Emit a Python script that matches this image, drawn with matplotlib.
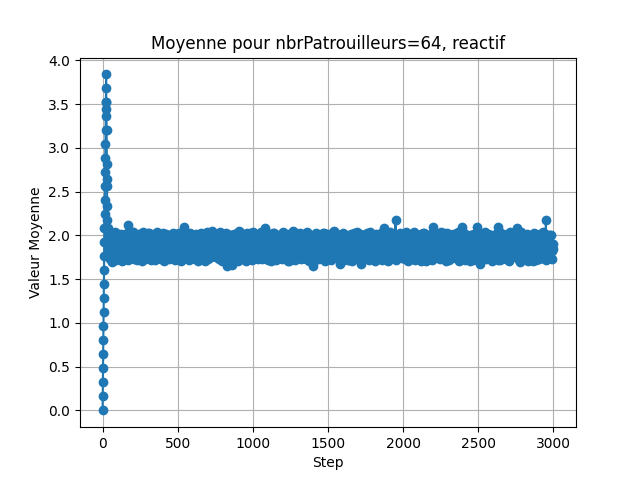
import matplotlib
matplotlib.use("Agg")
import matplotlib.pyplot as plt
import numpy as np

# ramp at the start (steps 0..24)
ramp_steps = np.arange(0, 25)
ramp_vals = [0.00, 0.16, 0.32, 0.48, 0.64, 0.80, 0.96, 1.12, 1.28, 1.44,
             1.60, 1.76, 1.92, 2.08, 2.24, 2.40, 2.56, 2.72, 2.88, 3.04,
             3.20, 3.36, 3.52, 3.68, 3.84]

# fall back after the peak (steps 25..39)
fall_steps = np.arange(25, 40)
fall_vals = [3.52, 3.45, 3.20, 2.82, 2.65, 2.56, 2.34, 2.18, 2.08, 2.00,
             1.95, 1.90, 1.86, 1.92, 1.88]

# steady regime, read every 10 steps (40..3000): spikes and dips
band_steps = np.arange(40, 3001, 10)
band_vals = [
    1.96, 1.84, 1.70, 1.99, 1.80, 2.03, 1.77, 1.93, 1.86, 2.01,
    1.78, 1.95, 1.82, 2.12, 1.88, 1.75, 2.04, 1.83, 1.97, 1.79,
    2.02, 1.86, 1.76, 1.98, 1.90, 1.81, 2.03, 1.77, 1.94, 1.85,
    1.99, 1.74, 1.91, 2.01, 1.83, 1.79, 1.96, 1.87, 2.02, 1.76,
    1.93, 1.84, 2.00, 1.78, 1.89, 1.97, 1.75, 2.03, 1.82, 1.92,
    2.10, 1.80, 1.94, 1.76, 2.01, 1.86, 1.79, 1.98, 1.84, 1.91,
    1.77, 2.02, 1.88, 1.81, 1.96, 1.74, 1.99, 1.85, 1.90, 2.05,
    1.79, 1.93, 2.01, 1.76, 1.87, 1.98, 1.82, 1.95, 1.78, 1.65,
    1.92, 2.00, 1.66, 1.89, 1.97, 1.80, 1.94, 2.05, 1.77, 1.86,
    2.01, 1.75, 1.91, 1.84, 2.03, 1.79, 1.96, 1.88, 1.74, 1.99,
    1.83, 1.93, 1.78, 2.02, 2.09, 1.81, 1.95, 1.76, 1.90, 2.00,
    1.85, 1.77, 1.98, 1.82, 2.01, 1.88, 1.75, 1.94, 1.80, 1.97,
    2.02, 1.79, 1.91, 2.05, 1.84, 1.76, 1.99, 1.87, 1.93, 1.78,
    1.96, 1.83, 2.00, 1.74, 1.89, 1.97, 1.65, 1.92, 1.81, 2.01,
    1.77, 1.94, 1.86, 2.03, 1.79, 1.90, 1.98, 1.75, 1.85, 2.00,
    2.05, 1.82, 1.95, 1.78, 1.67, 1.93, 2.01, 1.84, 1.76, 1.97,
    1.88, 2.02, 1.80, 1.91, 1.75, 1.99, 1.86, 1.94, 1.67, 2.00,
    1.83, 1.96, 1.77, 2.01, 1.89, 1.79, 1.95, 1.84, 1.98, 1.76,
    1.92, 2.00, 1.81, 2.08, 1.85, 1.77, 1.97, 1.90, 1.79, 2.02,
    1.86, 2.18, 1.80, 1.94, 1.75, 1.99, 1.87, 1.83, 2.03, 1.78,
    1.95, 1.84, 2.01, 1.76, 1.91, 1.98, 1.79, 1.88, 2.02, 1.74,
    1.93, 1.85, 1.99, 1.80, 1.96, 1.77, 2.10, 1.86, 1.82, 2.01,
    1.78, 1.94, 1.89, 2.03, 1.75, 1.97, 1.83, 1.91, 2.00, 1.79,
    1.96, 1.81, 2.02, 1.87, 1.76, 2.10, 1.84, 1.93, 1.78, 1.99,
    1.82, 2.01, 1.88, 1.77, 1.95, 2.10, 1.80, 1.67, 1.97, 1.85,
    2.02, 1.76, 1.92, 1.84, 2.00, 1.79, 1.96, 1.87, 1.81, 2.10,
    1.78, 1.93, 2.01, 1.83, 1.90, 1.75, 1.98, 1.86, 2.03, 1.80,
    1.94, 1.85, 2.08, 1.77, 1.70, 1.97, 1.82, 2.00, 1.88, 1.76,
    1.99, 1.84, 1.92, 1.79, 2.02, 1.87, 1.75, 1.96, 1.81, 2.01,
    1.86, 2.18, 1.80, 1.95, 2.00, 1.82, 1.90,
]

# steady regime, steps 45..2995: middle of the band
mid_steps = np.arange(45, 3000, 10)
mid_vals = [
    1.88, 1.83, 1.91, 1.86, 1.94, 1.81, 1.89, 1.92, 1.84, 1.87,
    1.90, 1.85, 1.93, 1.82, 1.88, 1.95, 1.86, 1.83, 1.91, 1.89,
    1.84, 1.92, 1.87, 1.90, 1.81, 1.93, 1.88, 1.85, 1.94, 1.86,
    1.91, 1.83, 1.89, 1.95, 1.84, 1.87, 1.92, 1.82, 1.90, 1.88,
    1.86, 1.93, 1.81, 1.89, 1.91, 1.84, 1.94, 1.87, 1.83, 1.92,
    1.89, 1.85, 1.92, 1.88, 1.82, 1.95, 1.86, 1.90, 1.84, 1.91,
    1.83, 1.90, 1.87, 1.93, 1.85, 1.88, 1.81, 1.94, 1.89, 1.86,
    1.92, 1.84, 1.88, 1.82, 1.91, 1.87, 1.95, 1.83, 1.90, 1.85,
    1.87, 1.93, 1.84, 1.90, 1.86, 1.81, 1.92, 1.89, 1.85, 1.94,
    1.88, 1.82, 1.91, 1.86, 1.94, 1.83, 1.89, 1.92, 1.87, 1.84,
    1.85, 1.91, 1.88, 1.83, 1.93, 1.86, 1.90, 1.82, 1.94, 1.87,
    1.92, 1.84, 1.89, 1.95, 1.85, 1.81, 1.91, 1.88, 1.86, 1.93,
    1.83, 1.90, 1.86, 1.92, 1.88, 1.84, 1.94, 1.81, 1.89, 1.87,
    1.91, 1.85, 1.93, 1.87, 1.82, 1.90, 1.86, 1.95, 1.84, 1.88,
    1.86, 1.92, 1.83, 1.89, 1.94, 1.85, 1.88, 1.91, 1.82, 1.90,
    1.84, 1.88, 1.92, 1.86, 1.81, 1.93, 1.87, 1.90, 1.85, 1.94,
    1.90, 1.83, 1.87, 1.93, 1.86, 1.89, 1.82, 1.91, 1.88, 1.85,
    1.87, 1.94, 1.85, 1.88, 1.92, 1.83, 1.90, 1.86, 1.84, 1.91,
    1.93, 1.86, 1.89, 1.82, 1.87, 1.95, 1.84, 1.88, 1.92, 1.85,
    1.88, 1.91, 1.84, 1.90, 1.86, 1.83, 1.93, 1.87, 1.89, 1.82,
    1.85, 1.89, 1.94, 1.87, 1.83, 1.91, 1.88, 1.84, 1.92, 1.86,
    1.91, 1.84, 1.88, 1.93, 1.85, 1.90, 1.82, 1.87, 1.94, 1.89,
    1.86, 1.92, 1.83, 1.88, 1.91, 1.85, 1.95, 1.84, 1.87, 1.90,
    1.89, 1.85, 1.91, 1.84, 1.93, 1.87, 1.82, 1.90, 1.86, 1.92,
    1.84, 1.90, 1.87, 1.92, 1.86, 1.83, 1.89, 1.94, 1.85, 1.88,
    1.92, 1.86, 1.83, 1.89, 1.91, 1.87, 1.84, 1.93, 1.88, 1.85,
    1.87, 1.91, 1.85, 1.94, 1.82, 1.88, 1.90, 1.86, 1.83, 1.92,
    1.90, 1.84, 1.88, 1.86, 1.93, 1.85, 1.91, 1.83, 1.89, 1.87,
    1.85, 1.92, 1.89, 1.84, 1.90, 1.87, 1.93, 1.86, 1.82, 1.91,
    1.88, 1.85, 1.91, 1.86, 1.89, 1.84,
]

# steady regime, steps 42..2992: upper and lower edges of the band
edge_steps = np.arange(42, 3000, 10)
edge_vals = [
    2.03, 1.73, 2.00, 1.75, 2.04, 1.72, 2.01, 1.74, 2.02, 1.71,
    2.00, 1.74, 2.03, 1.72, 2.01, 1.75, 2.04, 1.73, 2.00, 1.72,
    1.74, 2.02, 1.71, 2.04, 1.73, 2.00, 1.75, 2.03, 1.72, 2.01,
    2.02, 1.72, 2.04, 1.74, 2.00, 1.73, 2.03, 1.71, 2.01, 1.75,
    1.73, 2.01, 1.75, 2.03, 1.72, 2.02, 1.74, 2.00, 1.71, 2.04,
    2.04, 1.74, 2.01, 1.72, 2.03, 1.75, 2.00, 1.73, 2.02, 1.71,
    1.72, 2.03, 1.74, 2.00, 1.71, 2.04, 1.73, 2.01, 1.75, 2.02,
    2.01, 1.75, 2.02, 1.73, 2.04, 1.71, 2.00, 1.74, 2.03, 1.72,
    1.75, 2.00, 1.72, 2.02, 1.74, 2.03, 1.71, 2.04, 1.73, 2.01,
    2.00, 1.71, 2.03, 1.75, 2.02, 1.72, 2.04, 1.74, 2.01, 1.73,
    1.74, 2.04, 1.73, 2.01, 1.75, 2.00, 1.72, 2.02, 1.71, 2.03,
    2.03, 1.72, 2.00, 1.74, 2.01, 1.73, 2.04, 1.75, 2.02, 1.71,
    1.71, 2.02, 1.75, 2.04, 1.72, 2.01, 1.74, 2.03, 1.73, 2.00,
    2.02, 1.73, 2.04, 1.71, 2.00, 1.75, 2.01, 1.72, 2.03, 1.74,
    1.73, 2.01, 1.74, 2.03, 1.71, 2.02, 1.75, 2.00, 1.72, 2.04,
    2.04, 1.75, 2.02, 1.73, 2.00, 1.71, 2.03, 1.74, 2.01, 1.72,
    1.72, 2.00, 1.71, 2.03, 1.74, 2.04, 1.73, 2.02, 1.75, 2.01,
    2.01, 1.74, 2.03, 1.72, 2.04, 1.75, 2.00, 1.71, 2.02, 1.73,
    1.75, 2.03, 1.72, 2.00, 1.73, 2.01, 1.71, 2.04, 1.74, 2.02,
    2.00, 1.72, 2.01, 1.75, 2.03, 1.74, 2.02, 1.73, 2.04, 1.71,
    1.74, 2.02, 1.73, 2.04, 1.72, 2.00, 1.75, 2.01, 1.71, 2.03,
    2.03, 1.71, 2.00, 1.73, 2.02, 1.72, 2.04, 1.75, 2.01, 1.74,
    1.73, 2.04, 1.75, 2.01, 1.71, 2.03, 1.72, 2.00, 1.74, 2.02,
    2.02, 1.74, 2.04, 1.71, 2.01, 1.73, 2.03, 1.72, 2.00, 1.75,
    1.71, 2.01, 1.72, 2.02, 1.75, 2.04, 1.74, 2.03, 1.73, 2.00,
    2.04, 1.73, 2.02, 1.74, 2.00, 1.71, 2.01, 1.75, 2.03, 1.72,
    1.72, 2.03, 1.74, 2.00, 1.73, 2.02, 1.71, 2.04, 1.75, 2.01,
    2.01, 1.75, 2.03, 1.72, 2.04, 1.74, 2.00, 1.73, 2.02, 1.71,
    1.75, 2.00, 1.71, 2.03, 1.72, 2.01, 1.73, 2.02, 1.74, 2.04,
    2.02, 1.72, 2.00, 1.74, 2.01, 1.73,
]

steps = np.concatenate([ramp_steps, fall_steps, band_steps, mid_steps, edge_steps])
vals = np.concatenate([ramp_vals, fall_vals, band_vals, mid_vals, edge_vals])
order = np.argsort(steps, kind="stable")
steps, vals = steps[order], vals[order]

fig, ax = plt.subplots(figsize=(6.4, 4.8), dpi=100)
ax.plot(steps, vals, marker="o")
ax.set_title("Moyenne pour nbrPatrouilleurs=64, reactif")
ax.set_xlabel("Step")
ax.set_ylabel("Valeur Moyenne")
ax.grid(True)
fig.savefig("out.png", dpi=100)
